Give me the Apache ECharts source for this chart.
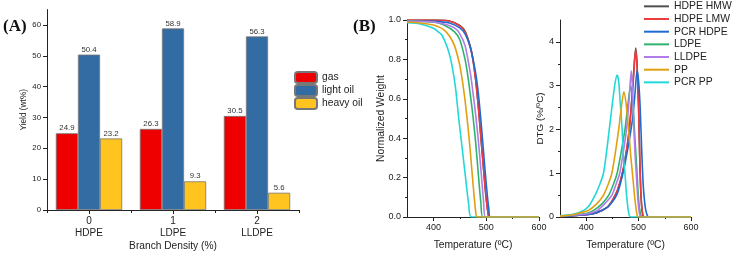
<!DOCTYPE html>
<html><head><meta charset="utf-8">
<script src="https://cdn.jsdelivr.net/npm/echarts@6/dist/echarts.min.js"></script>
<style>html,body{margin:0;padding:0;background:#fff}#c{width:733px;height:254px}</style>
</head><body><div id="c"></div><script>
// ---- Panel A data ----
const branchDensity = ['0', '1', '2'];
const polymers = ['HDPE', 'LDPE', 'LLDPE'];
const gasYield = [24.9, 26.3, 30.5];
const lightOilYield = [50.4, 58.9, 56.3];
const heavyOilYield = [23.2, 9.3, 5.6];
const yieldTicks = [0, 10, 20, 30, 40, 50, 60];

// ---- Panel B data (temperature ºC, value) ----
const seriesNames = ['HDPE HMW', 'HDPE LMW', 'PCR HDPE', 'LDPE', 'LLDPE', 'PP', 'PCR PP'];
const tempTicks = [400, 500, 600];
const tempMinorTicks = [450, 550];
const weightTicks = [0, 0.2, 0.4, 0.6, 0.8, 1.0];
const weightMinorTicks = [0.1, 0.3, 0.5, 0.7, 0.9];
const dtgTicks = [0, 1, 2, 3, 4];
const dtgMinorTicks = [0.5, 1.5, 2.5, 3.5];

const tgaHdpeHmw = [[350,1.0],[400,1.0],[430,0.995],[450,0.972],[460,0.942],[470,0.865],[475,0.80],[480,0.70],[485,0.565],[490,0.405],[495,0.245],[500,0.095],[504,0.01],[506,0],[600,0]];
const tgaHdpeLmw = [[350,1.0],[400,1.0],[430,0.995],[450,0.97],[460,0.94],[470,0.86],[475,0.795],[480,0.695],[485,0.56],[490,0.40],[495,0.24],[500,0.09],[504,0.01],[506,0],[600,0]];
const tgaPcrHdpe = [[350,0.995],[400,0.993],[430,0.985],[450,0.96],[460,0.93],[470,0.86],[480,0.73],[485,0.63],[490,0.49],[495,0.33],[500,0.17],[505,0.04],[508,0],[600,0]];
const tgaLdpe = [[350,0.995],[400,0.99],[420,0.975],[440,0.94],[450,0.90],[460,0.80],[465,0.72],[470,0.62],[475,0.51],[480,0.38],[485,0.22],[490,0.07],[494,0],[600,0]];
const tgaLldpe = [[350,0.995],[400,0.99],[420,0.98],[440,0.96],[450,0.93],[460,0.87],[470,0.73],[475,0.63],[480,0.52],[485,0.39],[490,0.24],[495,0.08],[499,0],[600,0]];
const tgaPp = [[350,0.99],[375,0.985],[400,0.975],[410,0.965],[420,0.95],[430,0.92],[440,0.87],[450,0.77],[455,0.69],[460,0.59],[465,0.47],[470,0.33],[475,0.17],[480,0.03],[483,0],[600,0]];
const tgaPcrPp = [[350,0.986],[375,0.98],[400,0.958],[410,0.938],[416,0.924],[422,0.89],[429,0.839],[435,0.772],[442,0.653],[448,0.5],[454.5,0.349],[461,0.197],[467,0.061],[472,0],[600,0]];

const dtgHdpeHmw = [[350,0.01],[400,0.05],[420,0.1],[440,0.22],[450,0.38],[460,0.62],[470,1.05],[478,1.6],[483,2.1],[488,2.85],[492,3.55],[494.5,3.86],[497,3.5],[500,2.5],[502.5,1.2],[505,0.4],[508,0.05],[512,0],[600,0]];
const dtgHdpeLmw = [[350,0.01],[400,0.05],[420,0.1],[440,0.22],[450,0.38],[460,0.62],[470,1.05],[478,1.6],[483,2.1],[488,2.8],[492,3.5],[494.5,3.82],[497,3.45],[500,2.5],[502.5,1.2],[505,0.4],[508,0.05],[512,0],[600,0]];
const dtgPcrHdpe = [[350,0.01],[400,0.05],[420,0.1],[440,0.22],[450,0.35],[458,0.5],[465,0.75],[472,1.1],[480,1.6],[488,2.2],[493,2.8],[497,3.34],[500,3.1],[503,2.5],[506,1.5],[509,0.7],[513,0.2],[517,0.02],[520,0],[600,0]];
const dtgLdpe = [[350,0.02],[400,0.08],[414,0.15],[430,0.3],[443,0.5],[452,0.75],[459,1.0],[467,1.5],[474,2.0],[480,2.6],[484.7,2.99],[488,2.8],[492,2.0],[497,1.0],[500,0.4],[504,0.05],[508,0],[600,0]];
const dtgLldpe = [[350,0.02],[400,0.07],[420,0.14],[435,0.3],[449,0.5],[457,0.75],[464,1.0],[471,1.5],[477,2.0],[482,2.7],[486,3.34],[488.5,2.9],[491,2.0],[493.5,1.4],[496,0.9],[499,0.35],[502,0.06],[506,0],[600,0]];
const dtgPp = [[350,0.02],[375,0.05],[390,0.1],[404,0.15],[420,0.3],[433,0.5],[442,0.75],[449,1.0],[456,1.5],[462,2.0],[467,2.5],[471.8,2.86],[476,2.6],[481,2.0],[485,1.4],[489,0.9],[493,0.4],[497,0.05],[500,0],[600,0]];
const dtgPcrPp = [[350,0.03],[375,0.06],[395,0.15],[405,0.25],[417,0.5],[426,0.75],[433,1.0],[439,1.5],[444,2.0],[450,2.6],[455,3.05],[459,3.24],[462,3.1],[465,2.6],[468.6,2.0],[471,1.4],[474,1.0],[477,0.5],[481,0.1],[485,0],[600,0]];

const tgaData = [tgaHdpeHmw, tgaHdpeLmw, tgaPcrHdpe, tgaLdpe, tgaLldpe, tgaPp, tgaPcrPp];
const dtgData = [dtgHdpeHmw, dtgHdpeLmw, dtgPcrHdpe, dtgLdpe, dtgLldpe, dtgPp, dtgPcrPp];
const lineColors = ['#505050', '#ee3b3b', '#1f6bd0', '#2fb36c', '#b07ce8', '#e0a010', '#22d8d8'];

const FONT = '"Liberation Sans", Arial, sans-serif';
const TXT = '#222';
const axisLine = { show: true, lineStyle: { color: '#222', width: 1 } };

function tempAxis(gi) {
  return {
    type: 'value', gridIndex: gi, min: 350, max: 600, position: 'bottom',
    name: 'Temperature (ºC)', nameLocation: 'middle', nameGap: 23, nameMoveOverlap: false,
    nameTextStyle: { fontFamily: FONT, fontSize: 10.3, color: TXT },
    axisLine: axisLine, splitLine: { show: false },
    axisTick: { show: true, length: 4, customValues: tempTicks, lineStyle: { color: '#222' } },
    axisLabel: { customValues: tempTicks, fontFamily: FONT, fontSize: 9, color: TXT, margin: 6 }
  };
}
function tempMinor(gi) {
  return {
    type: 'value', gridIndex: gi, min: 350, max: 600, position: 'bottom',
    axisLine: { show: false }, splitLine: { show: false }, axisLabel: { show: false },
    axisTick: { show: true, length: 2, customValues: tempMinorTicks, lineStyle: { color: '#222' } }
  };
}

const option = {
  animation: false,
  backgroundColor: '#fff',
  textStyle: { fontFamily: FONT },
  graphic: [
    { type: 'text', left: 3, top: 18, style: { text: '(A)', font: 'bold 17px "Liberation Serif", "Times New Roman", serif', fill: '#111' } },
    { type: 'text', left: 353, top: 18, style: { text: '(B)', font: 'bold 17px "Liberation Serif", "Times New Roman", serif', fill: '#111' } }
  ],
  legend: [
    {
      data: ['gas', 'light oil', 'heavy oil'], orient: 'vertical', left: 294, top: 71, padding: 0,
      itemWidth: 22, itemHeight: 11, itemGap: 0,
      textStyle: { fontFamily: FONT, fontSize: 10.3, color: TXT, lineHeight: 12 }
    },
    {
      data: seriesNames, orient: 'vertical', left: 644, top: 0, padding: 0,
      icon: 'rect', itemWidth: 25, itemHeight: 2, itemGap: 0,
      textStyle: { fontFamily: FONT, fontSize: 10.4, color: TXT, lineHeight: 12.67 }
    }
  ],
  grid: [
    { left: 47, top: 9.6, width: 252, height: 200.4, containLabel: false, outerBoundsMode: 'none' },
    { left: 407, top: 20, width: 132, height: 197, containLabel: false, outerBoundsMode: 'none' },
    { left: 560, top: 20, width: 131, height: 197, containLabel: false, outerBoundsMode: 'none' }
  ],
  xAxis: [
    {
      type: 'category', gridIndex: 0, data: branchDensity, position: 'bottom',
      name: 'Branch Density (%)', nameLocation: 'middle', nameGap: 31, nameMoveOverlap: false,
      nameTextStyle: { fontFamily: FONT, fontSize: 10.2, color: TXT },
      axisLine: axisLine,
      axisTick: { show: true, alignWithLabel: true, length: 4, lineStyle: { color: '#222' } },
      axisLabel: {
        fontFamily: FONT, fontSize: 10, color: TXT, lineHeight: 12, margin: 5,
        formatter: function (v, i) { return v + '\n' + polymers[i]; }
      }
    },
    {
      type: 'category', gridIndex: 0, data: branchDensity, position: 'bottom',
      axisLine: { show: false }, axisLabel: { show: false },
      axisTick: { show: true, alignWithLabel: false, length: 3, lineStyle: { color: '#222' } }
    },
    tempAxis(1), tempMinor(1), tempAxis(2), tempMinor(2)
  ],
  yAxis: [
    {
      type: 'value', gridIndex: 0, min: 0, max: 65, position: 'left',
      name: 'Yield (wt%)', nameLocation: 'middle', nameGap: 19, nameMoveOverlap: false,
      nameTextStyle: { fontFamily: FONT, fontSize: 8.3, color: TXT },
      axisLine: axisLine, splitLine: { show: false },
      axisTick: { show: true, length: 4, customValues: yieldTicks, lineStyle: { color: '#222' } },
      axisLabel: { customValues: yieldTicks, fontFamily: FONT, fontSize: 7.8, color: TXT, margin: 6 }
    },
    {
      type: 'value', gridIndex: 1, min: 0, max: 1, position: 'left',
      name: 'Normalized Weight', nameLocation: 'middle', nameGap: 21, nameMoveOverlap: false,
      nameTextStyle: { fontFamily: FONT, fontSize: 10.3, color: TXT },
      axisLine: axisLine, splitLine: { show: false },
      axisTick: { show: true, length: 4, customValues: weightTicks, lineStyle: { color: '#222' } },
      axisLabel: { customValues: weightTicks, fontFamily: FONT, fontSize: 9, color: TXT, margin: 6,
        formatter: function (v) { return Number(v).toFixed(1); } }
    },
    {
      type: 'value', gridIndex: 1, min: 0, max: 1, position: 'left',
      axisLine: { show: false }, splitLine: { show: false }, axisLabel: { show: false },
      axisTick: { show: true, length: 2, customValues: weightMinorTicks, lineStyle: { color: '#222' } }
    },
    {
      type: 'value', gridIndex: 2, min: 0, max: 4.5, position: 'left',
      name: 'DTG (%/ºC)', nameLocation: 'middle', nameGap: 15, nameMoveOverlap: false,
      nameTextStyle: { fontFamily: FONT, fontSize: 9.8, color: TXT },
      axisLine: axisLine, splitLine: { show: false },
      axisTick: { show: true, length: 4, customValues: dtgTicks, lineStyle: { color: '#222' } },
      axisLabel: { customValues: dtgTicks, fontFamily: FONT, fontSize: 9, color: TXT, margin: 6 }
    },
    {
      type: 'value', gridIndex: 2, min: 0, max: 4.5, position: 'left',
      axisLine: { show: false }, splitLine: { show: false }, axisLabel: { show: false },
      axisTick: { show: true, length: 2, customValues: dtgMinorTicks, lineStyle: { color: '#222' } }
    }
  ],
  series: []
};

const barLabel = { show: true, position: 'top', distance: 1, fontFamily: FONT, fontSize: 7.8, color: '#333' };
const barDefs = [['gas', gasYield, '#ee0000'], ['light oil', lightOilYield, '#336ba3'], ['heavy oil', heavyOilYield, '#ffc41f']];
barDefs.forEach(function (d) {
  option.series.push({
    name: d[0], type: 'bar', xAxisIndex: 0, yAxisIndex: 0, data: d[1],
    barGap: '0%', barCategoryGap: '21%',
    itemStyle: { color: d[2], borderColor: '#777', borderWidth: 0.8 },
    label: barLabel
  });
});

seriesNames.forEach(function (n, i) {
  const common = {
    name: n, type: 'line', symbol: 'none', smooth: 0.25,
    lineStyle: { color: lineColors[i], width: 1.6 }, itemStyle: { color: lineColors[i] },
    z: (n === 'PP') ? 3 : 2
  };
  option.series.push(Object.assign({}, common, { xAxisIndex: 2, yAxisIndex: 1, data: tgaData[i] }));
  option.series.push(Object.assign({}, common, { xAxisIndex: 4, yAxisIndex: 3, data: dtgData[i] }));
});

const chart = echarts.init(document.getElementById('c'), null, { renderer: 'canvas' });
chart.setOption(option);
</script></body></html>
